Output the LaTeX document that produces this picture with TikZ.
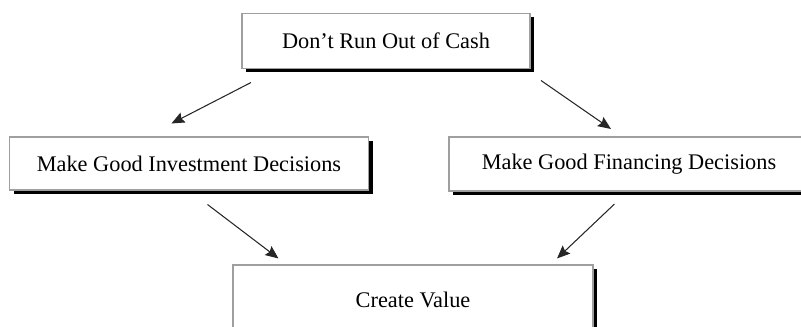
\documentclass[tikz,border=0pt]{standalone}
\usepackage{fontspec}
\setmainfont{Liberation Serif}
\usetikzlibrary{shadows,arrows.meta,positioning}

\begin{document}
\begin{tikzpicture}[
  box/.style={rectangle, draw=gray!75, line width=0.6pt, fill=white, align=center,
    font=\fontsize{12.7}{15}\selectfont,
    general shadow={fill=black, shadow xshift=0.08cm, shadow yshift=-0.08cm}},
  arrow/.style={-{Stealth[length=2.6mm, width=2.2mm, inset=0.4mm]}, line width=0.6pt, draw=black!85}
]
  \useasboundingbox (0,0) rectangle (16.02,6.52);
  \node[box, minimum width=5.76cm, minimum height=1.10cm] (cash) at (7.72,5.70) {Don't Run Out of Cash};
  \node[box, minimum width=7.18cm, minimum height=1.06cm] (invest) at (3.78,3.25) {Make Good Investment Decisions};
  \node[box, minimum width=7.20cm, minimum height=1.08cm] (finance) at (12.58,3.24) {Make Good Financing Decisions};
  \node[box, minimum width=7.20cm, minimum height=1.40cm] (value) at (8.26,0.52) {Create Value};
  \draw[arrow] ([shift={(0.19,-0.27)}]cash.south west) -- ([shift={(3.25,0.26)}]invest.north west);
  \draw[arrow] ([shift={(0.21,-0.23)}]cash.south east) -- ([shift={(3.25,0.15)}]finance.north west);
  \draw[arrow] ([shift={(-3.23,-0.28)}]invest.south east) -- ([shift={(0.92,0.12)}]value.north west);
  \draw[arrow] ([shift={(3.32,-0.25)}]finance.south west) -- ([shift={(-0.73,0.12)}]value.north east);
\end{tikzpicture}
\end{document}
